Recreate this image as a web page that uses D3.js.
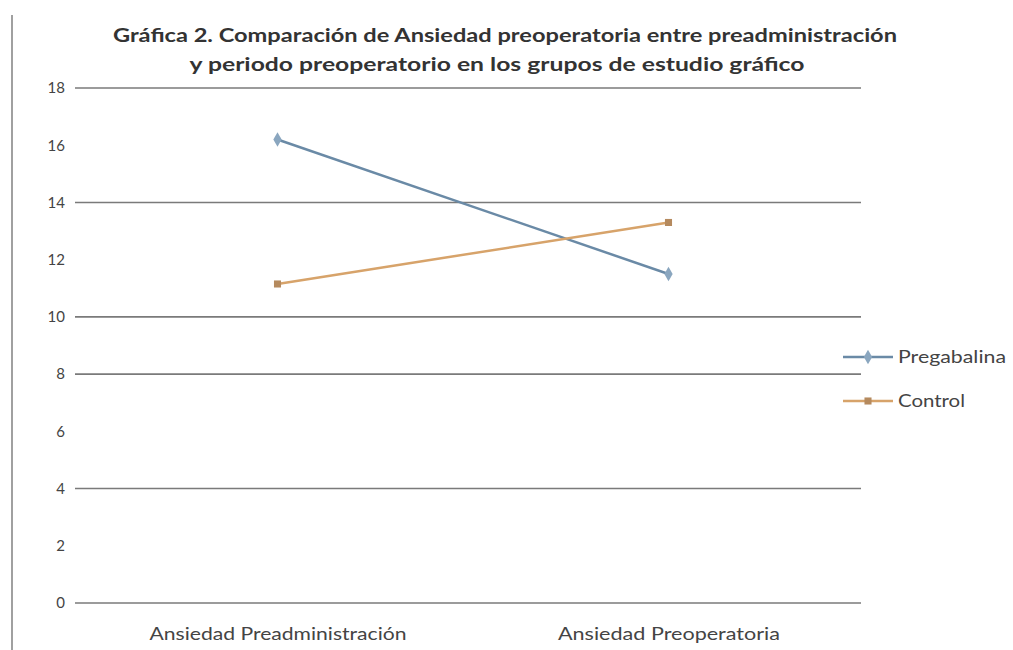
<!DOCTYPE html>
<html>
<head>
<meta charset="utf-8">
<script src="https://cdn.jsdelivr.net/npm/d3@7"></script>
<style>
  html, body { margin: 0; padding: 0; background: #fff; }
  svg { display: block; }
</style>
</head>
<body>
<svg id="chart" width="1013" height="650"></svg>
<script>
const titleLines = [
  "Gráfica 2. Comparación de Ansiedad preoperatoria entre preadministración",
  "y periodo preoperatorio en los grupos de estudio gráfico"
];
const categories = ["Ansiedad Preadministración", "Ansiedad Preoperatoria"];
const seriesNames = ["Pregabalina", "Control"];
const pregabalina = [16.2, 11.5];
const control = [11.15, 13.3];
const yTicks = [0, 2, 4, 6, 8, 10, 12, 14, 16, 18];
const gridTicks = [0, 4, 8, 10, 14, 18];

const colors = { "Pregabalina": "#6a8aa6", "Control": "#d7a36a" };
const markerColors = { "Pregabalina": "#8aa6bf", "Control": "#b58a5e" };

const svg = d3.select("#chart");
const font = "Lato, 'Open Sans', sans-serif";

// left border
svg.append("line").attr("x1", 12).attr("x2", 12).attr("y1", 15).attr("y2", 650)
  .attr("stroke", "#a0a0a0").attr("stroke-width", 2);

const x = d3.scalePoint().domain(categories).range([82, 864]).padding(0.5);
const y = d3.scaleLinear().domain([0, 18]).range([603, 88]);

// gridlines
svg.append("g").selectAll("line").data(gridTicks).join("line")
  .attr("x1", 75).attr("x2", 861)
  .attr("y1", d => y(d)).attr("y2", d => y(d))
  .attr("stroke", "#7a7a7a").attr("stroke-width", 1.6);

// y axis labels
const yAxis = d3.axisLeft(y).tickValues(yTicks).tickSize(0).tickPadding(0);
const yg = svg.append("g").attr("transform", "translate(65,0)").call(yAxis);
yg.select(".domain").remove();
yg.selectAll("text").attr("font-family", font).attr("font-size", 15).attr("fill", "#444");

// x axis labels
const xAxis = d3.axisBottom(x).tickSize(0).tickPadding(0);
const xg = svg.append("g").attr("transform", "translate(0,628)").call(xAxis);
xg.select(".domain").remove();
xg.selectAll("text").attr("font-family", font).attr("font-size", 17).attr("fill", "#444")
  .attr("dy", "0.71em")
  .attr("textLength", (d, i) => i === 0 ? 257 : 222).attr("lengthAdjust", "spacingAndGlyphs");

// title
svg.append("g").selectAll("text").data(titleLines).join("text")
  .attr("x", (d, i) => i === 0 ? 505 : 497)
  .attr("y", (d, i) => 42 + i * 29)
  .attr("text-anchor", "middle")
  .attr("font-family", font).attr("font-weight", "bold").attr("font-size", 19)
  .attr("fill", "#333")
  .attr("textLength", (d, i) => i === 0 ? 784 : 615).attr("lengthAdjust", "spacingAndGlyphs")
  .text(d => d);

// series
const data = [
  { name: "Pregabalina", values: pregabalina, marker: d3.symbolDiamond },
  { name: "Control", values: control, marker: d3.symbolSquare }
];
const line = d3.line().x((d, i) => x(categories[i])).y(d => y(d));

data.forEach(s => {
  svg.append("path").datum(s.values).attr("d", line)
    .attr("fill", "none").attr("stroke", colors[s.name]).attr("stroke-width", 2.5);
  svg.append("g").selectAll("path").data(s.values).join("path")
    .attr("transform", (d, i) => `translate(${x(categories[i])},${y(d)})`)
    .attr("d", d3.symbol().type(s.marker).size(s.name === "Control" ? 50 : 60))
    .attr("fill", markerColors[s.name]);
});

// legend
const legendY = [357, 401];
const legendLen = [108, 67];
const lg = svg.append("g");
data.forEach((s, i) => {
  const g = lg.append("g").attr("transform", `translate(0,${legendY[i]})`);
  g.append("line").attr("x1", 843).attr("x2", 893).attr("y1", 0).attr("y2", 0)
    .attr("stroke", colors[s.name]).attr("stroke-width", 2.5);
  g.append("path").attr("transform", "translate(868,0)")
    .attr("d", d3.symbol().type(s.marker).size(s.name === "Control" ? 50 : 60))
    .attr("fill", markerColors[s.name]);
  g.append("text").attr("x", 898).attr("y", 0).attr("dy", "0.35em")
    .attr("font-family", font).attr("font-size", 18).attr("fill", "#444")
    .attr("textLength", legendLen[i]).attr("lengthAdjust", "spacingAndGlyphs")
    .text(s.name);
});
</script>
</body>
</html>
